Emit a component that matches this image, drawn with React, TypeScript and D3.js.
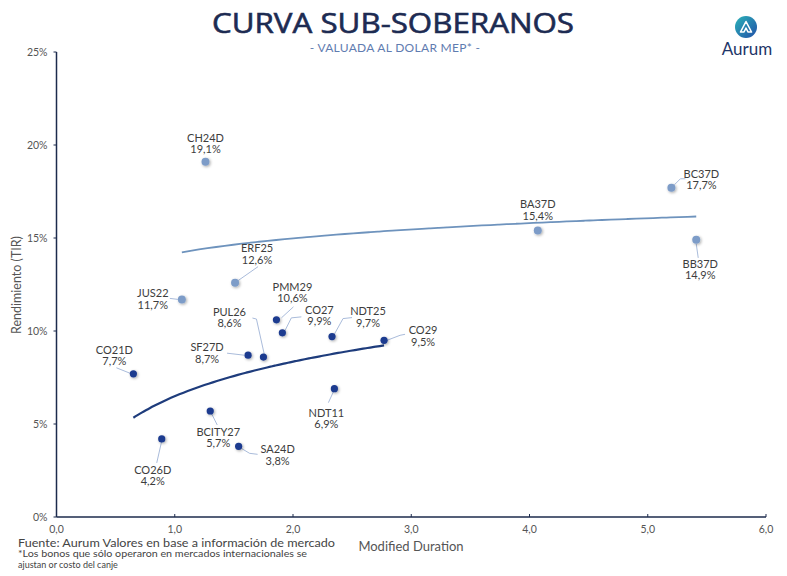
import React from "react";
import * as d3 from "d3";

// ---- Data ----
const bondNames = ["CH24D","BC37D","BA37D","BB37D","ERF25","JUS22","PMM29","CO27","NDT25","CO29","SF27D","PUL26","CO21D","NDT11","BCITY27","SA24D","CO26D"];
const durations = [1.26,5.20,4.07,5.41,1.51,1.06,1.86,1.91,2.33,2.77,1.62,1.75,0.65,2.35,1.30,1.54,0.89];
const yields = [19.1,17.7,15.4,14.9,12.6,11.7,10.6,9.9,9.7,9.5,8.7,8.6,7.7,6.9,5.7,3.8,4.2];
const groups = ["light","light","light","light","light","light","dark","dark","dark","dark","dark","dark","dark","dark","dark","dark","dark"];
const xTicks = [0,1,2,3,4,5,6];
const yTicks = [0,5,10,15,20,25];

// ---- Layout of labels (pixel offsets from the point) ----
const labelOffsets: [number, number][] = [
  [0,-24],[30,-14],[0,-26],[4,24],[22,-34],[-29,-6],[16,-33],[37,-23],[36,-25],[39,-10],[-41,-8],[-34,-45],[-19,-24],[-8,24],[8,21],[39,3],[-9,31]
];
const leaders: [number, number][][] = [
  [],
  [[3,-3],[9,-9],[14,-9]],
  [],
  [[0,4],[2,18]],
  [[3,-2],[23,-16]],
  [[-12,-1],[-4,0]],
  [[5,-2],[17,-13]],
  [[2,-1],[9,-15],[19,-16]],
  [[1,0],[11,-18],[20,-19]],
  [[3,0],[16,-5],[21,-6]],
  [[-21,-2],[-4,0]],
  [[1,-2],[-7,-38],[-11,-39]],
  [[-17,-6],[-2,0]],
  [[0,1],[-6,14]],
  [[1,2],[7,14]],
  [[1,1],[11,7],[19,8]],
  [[0,2],[-5,24]],
];

const FONT = "Lato, 'Open Sans', sans-serif";
const NAVY = "#1c2b4d";
const DARK_PT = "#1b3a8f";
const LIGHT_PT = "#7d9cc8";
const DARK_LINE = "#1e3c7c";
const LIGHT_LINE = "#6e93bd";

function logFit(xs: number[], ys: number[]) {
  const lx = xs.map(Math.log);
  const mx = d3.mean(lx)!;
  const my = d3.mean(ys)!;
  let num = 0, den = 0;
  lx.forEach((v, i) => { num += (v - mx) * (ys[i] - my); den += (v - mx) ** 2; });
  const b = num / den;
  const a = my - b * mx;
  return (x: number) => a + b * Math.log(x);
}

export default function App() {
  const W = 787, H = 576;
  const x = d3.scaleLinear().domain([0, 6]).range([56.5, 766]);
  const y = d3.scaleLinear().domain([0, 25]).range([517, 52]);

  const idx = bondNames.map((_, i) => i);
  const trend = (g: string) => {
    const ids = idx.filter(i => groups[i] === g);
    const xs = ids.map(i => durations[i]);
    const ys = ids.map(i => yields[i]);
    const f = logFit(xs, ys);
    const [lo, hi] = d3.extent(xs) as [number, number];
    const pts = d3.range(0, 61).map(k => lo + (hi - lo) * k / 60);
    return d3.line<number>().x(v => x(v)).y(v => y(f(v))).curve(d3.curveMonotoneX)(pts) || "";
  };

  const fmt = (v: number) => v.toFixed(1).replace(".", ",");

  return (
    <svg width={W} height={H} viewBox={`0 0 ${W} ${H}`} style={{ position: "absolute", left: 0, top: 0, background: "#fff" }}>
      <defs>
        <filter id="glow" x="-100%" y="-100%" width="300%" height="300%">
          <feGaussianBlur in="SourceAlpha" stdDeviation="1.6" />
          <feOffset dx="0.5" dy="1" result="b" />
          <feComponentTransfer><feFuncA type="linear" slope="0.35" /></feComponentTransfer>
          <feMerge><feMergeNode /><feMergeNode in="SourceGraphic" /></feMerge>
        </filter>
        <linearGradient id="logoGrad" x1="0" y1="0" x2="1" y2="1">
          <stop offset="0%" stopColor="#2bb3b8" />
          <stop offset="100%" stopColor="#2250a8" />
        </linearGradient>
      </defs>
      <rect width={W} height={H} fill="#fff" />

      {/* Title */}
      <text x={393} y={33} textAnchor="middle" fontFamily="'Open Sans', sans-serif" fontWeight={400} fontSize={27} fill="#1d2b52" stroke="#1d2b52" strokeWidth={0.6} textLength={362} lengthAdjust="spacingAndGlyphs">CURVA SUB-SOBERANOS</text>
      <text x={395} y={52} textAnchor="middle" fontFamily={FONT} fontSize={12} fill="#5f7cb0" letterSpacing={0.3}>- VALUADA AL DOLAR MEP* -</text>

      {/* Logo */}
      <circle cx={746} cy={27} r={11} fill="url(#logoGrad)" />
      <path d="M740.5,32 L746,21.5 L751.5,32 L748,32 L746,28 L744,32 Z" fill="none" stroke="#fff" strokeWidth={1.6} strokeLinejoin="round" />
      <text x={747} y={55} textAnchor="middle" fontFamily={FONT} fontSize={17} fill="#1e3568">Aurum</text>

      {/* Axes */}
      <line x1={x(0)} x2={x(0)} y1={y(25)} y2={y(0)} stroke={NAVY} strokeWidth={1.5} />
      <line x1={x(0)} x2={x(6)} y1={y(0)} y2={y(0)} stroke={NAVY} strokeWidth={1.5} />
      {yTicks.map(t => (
        <g key={"y" + t}>
          <line x1={x(0) - 3} x2={x(0)} y1={y(t)} y2={y(t)} stroke={NAVY} strokeWidth={1} />
          <text x={x(0) - 9} y={y(t)} dy="0.35em" textAnchor="end" fontFamily={FONT} fontSize={10.5} fill="#555">{t}%</text>
        </g>
      ))}
      {xTicks.map(t => (
        <g key={"x" + t}>
          <line x1={x(t)} x2={x(t)} y1={y(0) - 3} y2={y(0)} stroke={NAVY} strokeWidth={1} />
          <text x={x(t)} y={y(0) + 16} textAnchor="middle" fontFamily={FONT} fontSize={10.5} fill="#555">{fmt(t)}</text>
        </g>
      ))}
      <text transform={`translate(21,285) rotate(-90)`} textAnchor="middle" fontFamily={FONT} fontSize={12.5} fill="#555">Rendimiento (TIR)</text>
      <text x={411} y={551} textAnchor="middle" fontFamily={FONT} fontSize={13} fill="#555">Modified Duration</text>

      {/* Footer */}
      <text x={18} y={547} fontFamily={FONT} fontSize={11.5} fill="#444" textLength={317} lengthAdjust="spacingAndGlyphs">Fuente: Aurum Valores en base a información de mercado</text>
      <text x={18} y={557} fontFamily={FONT} fontSize={9} fill="#444" textLength={289} lengthAdjust="spacingAndGlyphs">*Los bonos que sólo operaron en mercados internacionales se</text>
      <text x={18} y={568} fontFamily={FONT} fontSize={9} fill="#444">ajustan or costo del canje</text>

      {/* Trend lines */}
      <path d={trend("light")} fill="none" stroke={LIGHT_LINE} strokeWidth={1.8} />
      <path d={trend("dark")} fill="none" stroke={DARK_LINE} strokeWidth={2.2} />

      {/* Leaders */}
      {idx.map(i => {
        const px = x(durations[i]), py = y(yields[i]);
        const l = leaders[i];
        if (!l.length) return null;
        return <polyline key={"l" + i} points={l.map(([dx, dy]) => `${px + dx},${py + dy}`).join(" ")} fill="none" stroke="#9fb3d6" strokeWidth={0.9} />;
      })}

      {/* Points */}
      {idx.map(i => (
        <circle key={"p" + i} cx={x(durations[i])} cy={y(yields[i])} r={groups[i] === "dark" ? 3.6 : 4} fill={groups[i] === "dark" ? DARK_PT : LIGHT_PT} filter="url(#glow)" />
      ))}

      {/* Labels */}
      {idx.map(i => {
        const px = x(durations[i]) + labelOffsets[i][0];
        const py = y(yields[i]) + labelOffsets[i][1];
        return (
          <g key={"t" + i} fontFamily={FONT} fontSize={11} fill="#3d3d3d" textAnchor="middle">
            <text x={px} y={py} dy="0.35em">{bondNames[i]}</text>
            <text x={px} y={py + 11.5} dy="0.35em">{fmt(yields[i])}%</text>
          </g>
        );
      })}
    </svg>
  );
}
